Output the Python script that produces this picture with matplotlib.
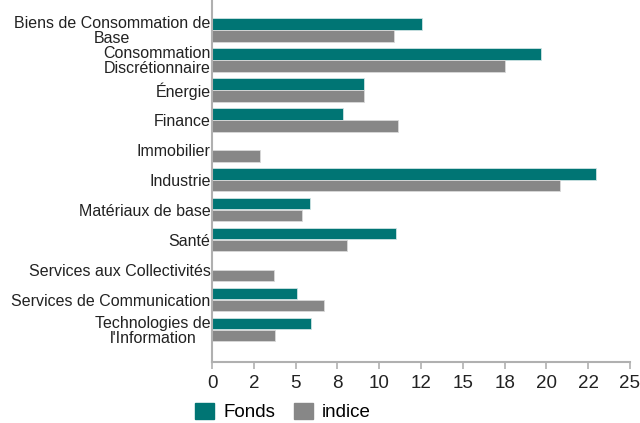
import matplotlib
matplotlib.use("Agg")
import matplotlib.pyplot as plt
from matplotlib.ticker import FixedLocator, FuncFormatter
from matplotlib.patches import Patch

plt.rcParams['font.family'] = ['Liberation Sans', 'DejaVu Sans']

categories = [
    "Biens de Consommation de\nBase",
    "Consommation\nDiscrétionnaire",
    "Énergie",
    "Finance",
    "Immobilier",
    "Industrie",
    "Matériaux de base",
    "Santé",
    "Services aux Collectivités",
    "Services de Communication",
    "Technologies de\nl'Information",
]
fonds = [12.57, 19.68, 9.07, 7.85, 0.0, 22.97, 5.88, 10.98, 0.0, 5.10, 5.93]
indice = [10.90, 17.55, 9.12, 11.15, 2.89, 20.83, 5.37, 8.09, 3.70, 6.67, 3.75]
x_ticks = [0, 2.5, 5, 7.5, 10, 12.5, 15, 17.5, 20, 22.5, 25]

teal = "#007574"
gray = "#878787"
axis_gray = "#b0b0b0"

fig = plt.figure(figsize=(6.4, 4.23), dpi=100)
ax = fig.add_axes([212/640, 1 - 362/423, (630-212)/640, 362/423])

pos = list(range(len(categories)))
h = 0.37
ax.barh([p - 0.2 for p in pos], fonds, height=h, color=teal, edgecolor="#cfe3e3", linewidth=0.6, label="Fonds")
ax.barh([p + 0.2 for p in pos], indice, height=h, color=gray, edgecolor="#d9d9d9", linewidth=0.6, label="indice")

ax.set_xlim(0, 25)
ax.set_ylim(11.07, -1)
ax.set_yticks(pos)
ax.set_yticklabels(categories, fontsize=11.5, color="#222222", multialignment="center", linespacing=0.95)
ax.tick_params(axis='y', length=0, pad=1)
ax.xaxis.set_major_locator(FixedLocator(x_ticks))
ax.xaxis.set_major_formatter(FuncFormatter(lambda v, p: "{:.0f}".format(v)))
ax.tick_params(axis='x', length=5, color=axis_gray, labelsize=13.5, labelcolor="#222222", pad=4, width=1.2)

for s in ['top', 'right']:
    ax.spines[s].set_visible(False)
for s in ['left', 'bottom']:
    ax.spines[s].set_color(axis_gray)
    ax.spines[s].set_linewidth(1.5)

handles = [Patch(color=teal, label="Fonds"), Patch(color=gray, label="indice")]
fig.legend(handles=handles, loc='center', bbox_to_anchor=(283/640, 1 - 412/423), ncol=2,
           frameon=False, fontsize=13.5, handlelength=1.0, handleheight=1.0, handletextpad=0.5,
           columnspacing=1.0)

fig.savefig("out.png", dpi=100)
